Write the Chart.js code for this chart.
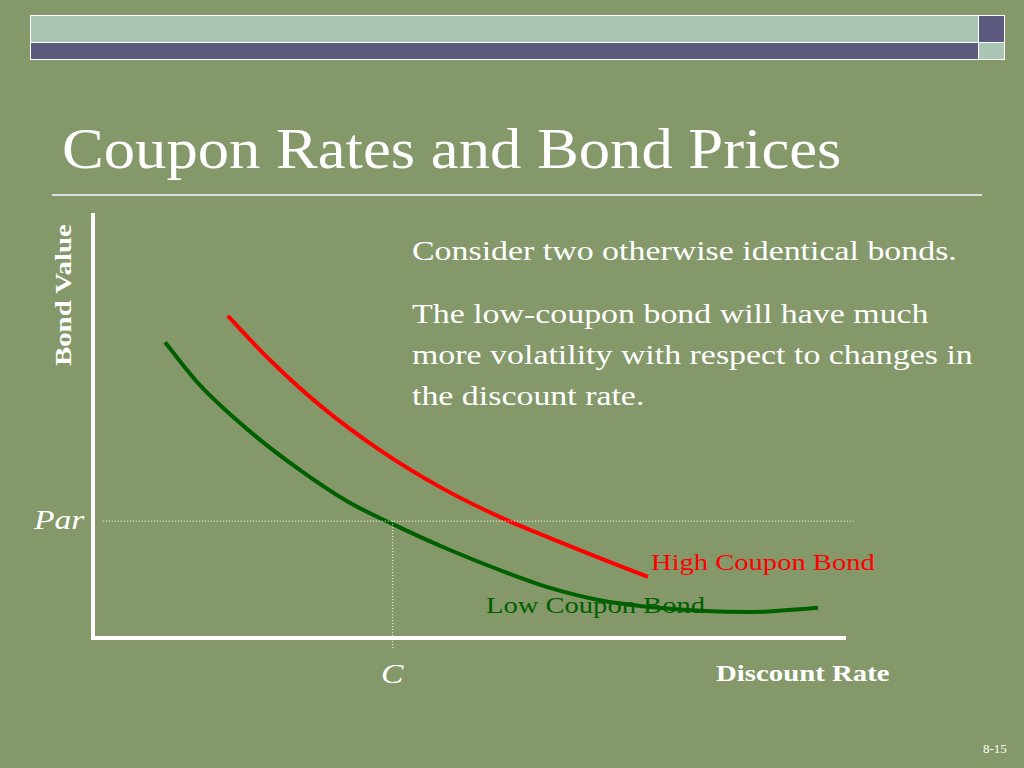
<!DOCTYPE html><html><head><meta charset="utf-8">
<script src="https://cdn.jsdelivr.net/npm/chart.js@4/dist/chart.umd.min.js"></script>
<style>
body{margin:0;width:1024px;height:768px;background:#84986A;position:relative;overflow:hidden;font-family:"Liberation Serif",serif;color:#fff}
.a{position:absolute;white-space:nowrap;transform-origin:0 0}
</style></head><body>
<div class="a" style="left:30px;top:15px;width:947px;height:27px;background:#A9C5B3;border:1px solid #fff"></div>
<div class="a" style="left:30px;top:42px;width:947px;height:16px;background:#5B5A7E;border:1px solid #fff"></div>
<div class="a" style="left:978px;top:15px;width:25px;height:27px;background:#5B5A7E;border:1px solid #fff"></div>
<div class="a" style="left:978px;top:42px;width:25px;height:16px;background:#A9C5B3;border:1px solid #fff"></div>
<div class="a" style="left:62px;top:114px;font-size:58px;line-height:70px;transform:scaleX(1.08)">Coupon Rates and Bond Prices</div>
<div class="a" style="left:52px;top:194px;width:930px;height:2px;background:#ddd"></div>
<div class="a" style="left:412px;top:231px;font-size:28px;line-height:40px;transform:scaleX(1.21)">Consider two otherwise identical bonds.</div>
<div class="a" style="left:412px;top:293px;font-size:28px;line-height:41px;transform:scaleX(1.21)">The low-coupon bond will have much<br>more volatility with respect to changes in<br>the discount rate.</div>
<div class="a" style="font-size:24px;font-weight:bold;transform:rotate(-90deg) scaleX(1.2);top:366px;left:50px">Bond Value</div>
<div class="a" style="left:34px;top:504px;font-size:28px;font-style:italic;transform:scaleX(1.2)">Par</div>
<div class="a" style="left:381px;top:658px;font-size:28px;font-style:italic;transform:scaleX(1.2)">C</div>
<div class="a" style="left:716px;top:660px;font-size:24px;font-weight:bold;transform:scaleX(1.2)">Discount Rate</div>
<div class="a" style="left:651px;top:549px;font-size:24px;color:#f00;transform:scaleX(1.19)">High Coupon Bond</div>
<div class="a" style="left:486px;top:592px;font-size:24px;color:#006000;transform:scaleX(1.19)">Low Coupon Bond</div>
<div class="a" style="left:983px;top:741px;font-size:13px">8-15</div>
<div class="a" style="left:83px;top:203px;width:773px;height:455px"><canvas id="c"></canvas></div>
<script>
const lowX=[9.56,14.2,20.9,27.5,34.1,39.8,47.4,54.0,60.7,67.3,74.0,80.6,87.3,96.3];
const lowY=[69.6,59.5,48.5,39.5,31.8,26.8,20.7,16.0,11.8,8.9,7.3,6.4,6.1,7.1];
const highX=[17.9,23.5,30.1,38.1,46.1,54.0,60.7,67.3,73.7];
const highY=[75.8,65.4,54.8,44.2,35.5,28.5,23.5,18.8,14.4];
const par=27.5, cRate=39.8;
const pts=(xs,ys)=>xs.map((x,i)=>({x,y:ys[i]}));
const base={showLine:true,pointRadius:0,fill:false,clip:false};
new Chart(document.getElementById('c'),{type:'scatter',data:{datasets:[
{...base,data:[{x:1.3,y:par},{x:101,y:par}],borderColor:'#fff',borderWidth:1,borderDash:[1,2]},
{...base,data:[{x:cRate,y:par},{x:cRate,y:-2.5}],borderColor:'#fff',borderWidth:1,borderDash:[1,2]},
{...base,data:[{x:0,y:100},{x:0,y:0},{x:100,y:0}],borderColor:'#fff',borderWidth:4},
{...base,data:pts(lowX,lowY),borderColor:'#006000',borderWidth:4,cubicInterpolationMode:'monotone'},
{...base,data:pts(highX,highY),borderColor:'#ff0000',borderWidth:4,cubicInterpolationMode:'monotone'}
]},options:{responsive:true,maintainAspectRatio:false,animation:false,
layout:{padding:{left:10,top:10,right:10,bottom:20}},
plugins:{legend:{display:false},tooltip:{enabled:false}},
scales:{x:{type:'linear',min:0,max:100,display:false},y:{min:0,max:100,display:false}}}});
</script></body></html>
